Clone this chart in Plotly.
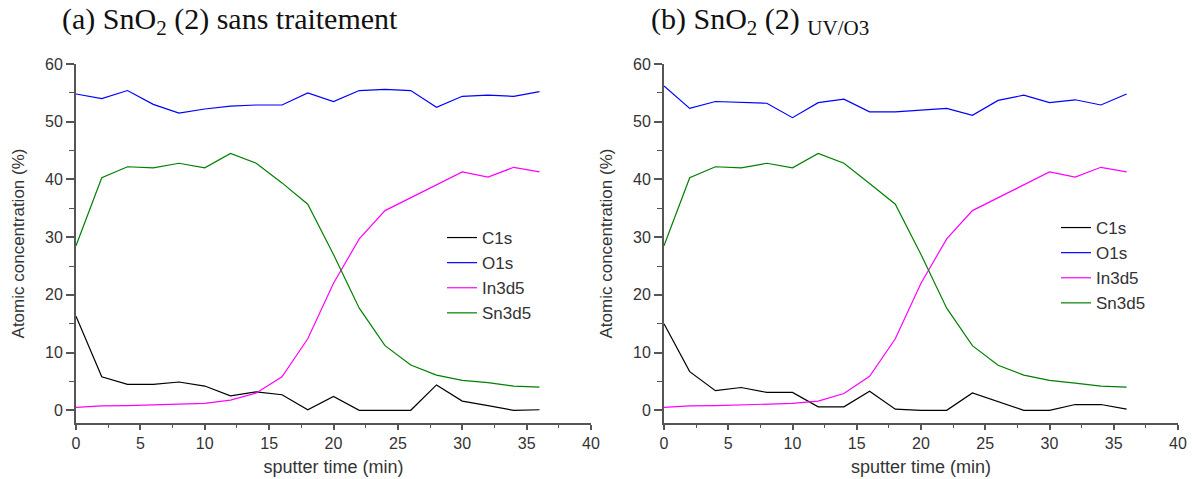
import plotly.graph_objects as go

time_min = [0, 2, 4, 6, 8, 10, 12, 14, 16, 18, 20, 22, 24, 26, 28, 30, 32, 34, 36]

# (a) sans traitement
a_C1s = [16.3, 5.8, 4.5, 4.5, 4.9, 4.2, 2.5, 3.2, 2.7, 0.1, 2.4, 0.0, 0.0, 0.0, 4.4, 1.6, 0.8, 0.0, 0.1]
a_O1s = [54.8, 54.0, 55.4, 53.0, 51.5, 52.2, 52.7, 52.9, 52.9, 55.0, 53.5, 55.4, 55.6, 55.4, 52.5, 54.4, 54.6, 54.4, 55.2]
a_In3d5 = [0.5, 0.75, 0.8, 0.9, 1.0, 1.2, 1.75, 3.0, 5.8, 12.4, 22.0, 29.7, 34.6, 36.8, 39.0, 41.3, 40.4, 42.1, 41.3]
a_Sn3d5 = [28.5, 40.3, 42.2, 42.0, 42.8, 42.0, 44.5, 42.8, 39.4, 35.7, 27.0, 17.7, 11.2, 7.85, 6.1, 5.2, 4.8, 4.2, 4.0]

# (b) UV/O3
b_C1s = [15.0, 6.7, 3.4, 3.95, 3.1, 3.1, 0.6, 0.6, 3.3, 0.2, 0.0, 0.0, 3.0, 1.5, 0.0, 0.0, 1.0, 1.0, 0.2]
b_O1s = [56.2, 52.3, 53.5, 53.3, 53.2, 50.7, 53.3, 53.9, 51.7, 51.7, 52.0, 52.3, 51.1, 53.7, 54.6, 53.3, 53.8, 52.9, 54.8]
b_In3d5 = [0.5, 0.75, 0.8, 0.9, 1.0, 1.2, 1.6, 2.9, 5.9, 12.4, 22.0, 29.7, 34.6, 36.8, 39.0, 41.3, 40.4, 42.1, 41.3]
b_Sn3d5 = [28.5, 40.3, 42.2, 42.0, 42.8, 42.0, 44.5, 42.8, 39.3, 35.7, 27.0, 17.7, 11.2, 7.8, 6.1, 5.2, 4.7, 4.2, 4.0]

series_names = ["C1s", "O1s", "In3d5", "Sn3d5"]
series_colors = ["#000000", "#0000FF", "#FF00FF", "#008000"]

titles = ["(a) SnO<sub>2</sub> (2) sans traitement", "(b) SnO<sub>2</sub> (2) <sub>UV/O3</sub>"]
x_tick_vals = [0, 5, 10, 15, 20, 25, 30, 35, 40]
y_tick_vals = [0, 10, 20, 30, 40, 50, 60]

W, H = 1192, 479
ML, MR, MT, MB = 76, 14, 64, 56
PW, PH = W - ML - MR, H - MT - MB


def px(xp):
    return (xp - ML) / PW


def py(yp):
    return (H - MB - yp) / PH


fig = go.Figure()

panels = [
    (a_C1s, a_O1s, a_In3d5, a_Sn3d5),
    (b_C1s, b_O1s, b_In3d5, b_Sn3d5),
]
for p, data in enumerate(panels):
    sfx = "" if p == 0 else "2"
    for name, col, vals in zip(series_names, series_colors, data):
        fig.add_trace(go.Scatter(
            x=time_min, y=vals, mode="lines", name=name,
            line=dict(color=col, width=1.2),
            xaxis="x" + sfx, yaxis="y" + sfx,
            legend="legend" + sfx,
        ))

left_px = [(76, 591), (664, 1178)]

FONT = "Liberation Sans, Arial"
axis_common = dict(
    showline=True, linecolor="#555", linewidth=1.8,
    ticks="outside", tickcolor="#555", tickwidth=1.5,
    showgrid=False, zeroline=False, automargin=False,
    tickfont=dict(family=FONT, size=16, color="#333"),
)
layout = dict(
    width=W, height=H,
    margin=dict(l=ML, r=MR, t=MT, b=MB, autoexpand=False),
    plot_bgcolor="white", paper_bgcolor="white",
    showlegend=True,
)
for p in range(2):
    sfx = "" if p == 0 else "2"
    x0, x1 = left_px[p]
    layout["xaxis" + sfx] = dict(
        axis_common,
        domain=[px(x0), px(x1)], range=[0, 40], tickvals=x_tick_vals, ticklen=5,
        anchor="y" + sfx,
        minor=dict(ticks="outside", dtick=2.5, tick0=0, ticklen=3, tickcolor="#555", tickwidth=1.3),
        title=dict(text="sputter time (min)", standoff=9,
                   font=dict(family=FONT, size=18, color="#333")),
    )
    layout["yaxis" + sfx] = dict(
        axis_common,
        domain=[0, 1], range=[-2.2, 60], tickvals=y_tick_vals, ticklen=8,
        anchor="x" + sfx,
        minor=dict(ticks="outside", dtick=5, tick0=0, ticklen=5, tickcolor="#555", tickwidth=1.3),
        title=dict(text="Atomic concentration (%)", standoff=16,
                   font=dict(family=FONT, size=17, color="#333")),
    )

legend_pos = [(442, 220), (1056, 210)]
for p in range(2):
    sfx = "" if p == 0 else "2"
    lx, ly = legend_pos[p]
    layout["legend" + sfx] = dict(
        x=px(lx), y=py(ly), xanchor="left", yanchor="top",
        xref="paper", yref="paper",
        font=dict(family=FONT, size=17, color="#333"),
        bgcolor="rgba(0,0,0,0)", tracegroupgap=0, itemwidth=30,
    )

fig.update_layout(**layout)

title_x = [60, 649]
for p in range(2):
    fig.add_annotation(
        text=titles[p], x=px(title_x[p]), y=py(21), xref="paper", yref="paper",
        xanchor="left", yanchor="middle", showarrow=False,
        font=dict(family="Liberation Serif, Times New Roman", size=30, color="#111"),
    )

fig.write_html("out.html", config={"displayModeBar": False},
               post_script="document.body.style.margin='0';")
